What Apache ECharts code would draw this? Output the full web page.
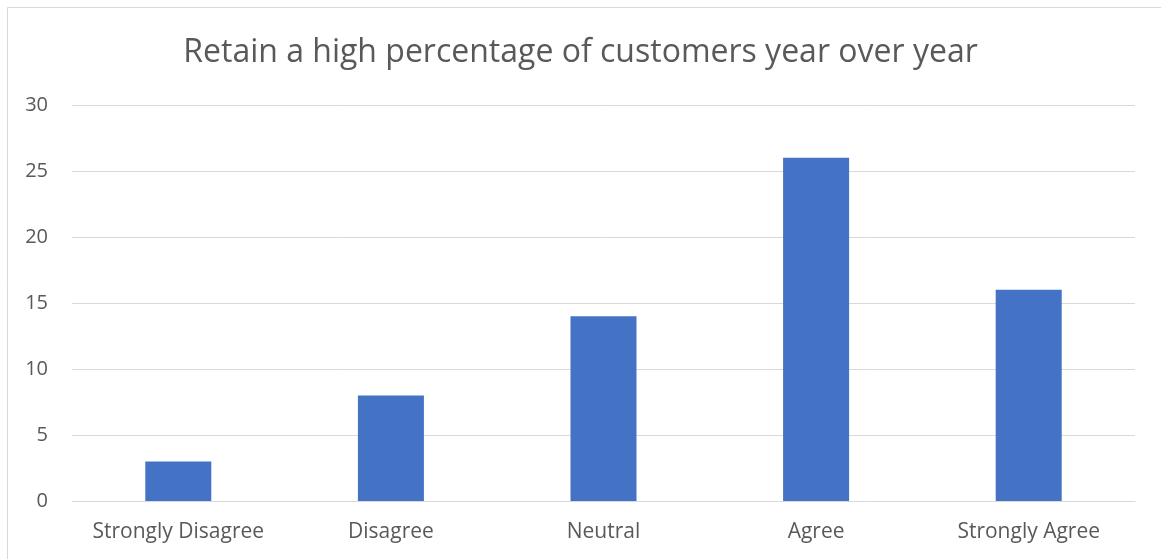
<!DOCTYPE html>
<html>
<head>
<meta charset="utf-8">
<script src="https://cdn.jsdelivr.net/npm/echarts@6/dist/echarts.min.js"></script>
<style>
  html, body { margin: 0; padding: 0; background: #fff; }
  #chart { width: 1161px; height: 559px; }
</style>
</head>
<body>
<div id="chart"></div>
<script>
// Survey responses: "Retain a high percentage of customers year over year"
const categories = ['Strongly Disagree', 'Disagree', 'Neutral', 'Agree', 'Strongly Agree'];
const responses = [3, 8, 14, 26, 16];
const titleText = 'Retain a high percentage of customers year over year';

const textColor = '#595959';
const fontFamily = 'Open Sans, Noto Sans, sans-serif';

const chart = echarts.init(document.getElementById('chart'), null, { renderer: 'canvas' });
chart.setOption({
  animation: false,
  backgroundColor: '#ffffff',
  graphic: [{
    type: 'rect',
    shape: { x: 7.5, y: 7.5, width: 1200, height: 600 },
    style: { fill: 'none', stroke: '#d9d9d9', lineWidth: 1 },
    silent: true
  }],
  title: {
    text: titleText,
    left: 'center',
    top: 32,
    textStyle: { color: textColor, fontSize: 32, fontWeight: 'normal', fontFamily: fontFamily }
  },
  grid: { left: 72, right: 26, top: 105, bottom: 58, containLabel: false },
  xAxis: {
    type: 'category',
    data: categories,
    axisLine: { show: true, lineStyle: { color: '#d9d9d9', width: 1 } },
    axisTick: { show: false },
    axisLabel: { color: textColor, fontSize: 21, fontFamily: fontFamily, margin: 21, interval: 0 }
  },
  yAxis: {
    type: 'value',
    min: 0,
    max: 30,
    interval: 5,
    axisLine: { show: false },
    axisTick: { show: false },
    splitLine: { lineStyle: { color: '#d9d9d9', width: 1 } },
    axisLabel: { color: textColor, fontSize: 20, fontFamily: fontFamily, margin: 24 }
  },
  series: [{
    type: 'bar',
    data: responses,
    barWidth: 66,
    itemStyle: { color: '#4472c4' }
  }]
});
</script>
</body>
</html>
